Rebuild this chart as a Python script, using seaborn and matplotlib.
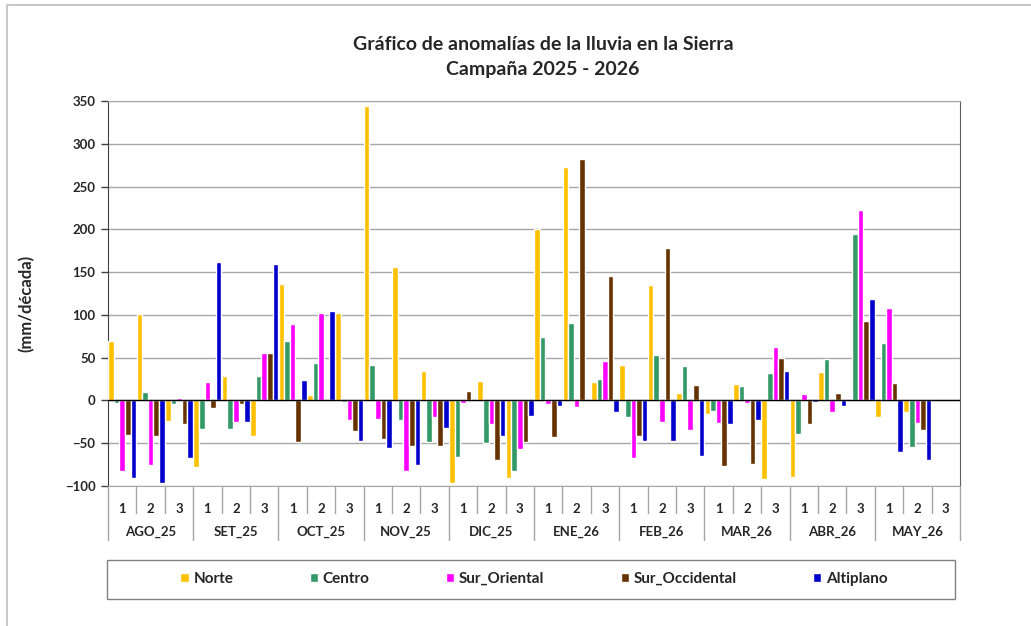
import pandas as pd
import seaborn as sns
import matplotlib.pyplot as plt
from matplotlib.patches import Rectangle, Patch
from matplotlib.transforms import blended_transform_factory

# Meses y décadas
meses = ['AGO_25', 'SET_25', 'OCT_25', 'NOV_25', 'DIC_25',
         'ENE_26', 'FEB_26', 'MAR_26', 'ABR_26', 'MAY_26']
decadas = ['1', '2', '3']
regiones = ['Norte', 'Centro', 'Sur_Oriental', 'Sur_Occidental', 'Altiplano']
colores = ['#FFC000', '#339966', '#FF00FF', '#663300', '#0000CC']

# Anomalías (mm/década), 30 décadas; None = sin dato
norte = [70, 101, -24, -78, 28, -42, 136, 6, 102, 344, 156, 35,
         -97, 23, -91, 200, 273, 21, 42, 135, 9, -16, 19, -92,
         -89, 33, 0, -19, -14, None]
centro = [-3, 10, -4, -33, -33, 28, 69, 44, -2, 42, -23, -48,
          -66, -50, -82, 74, 91, 25, -19, 53, 40, -12, 17, 32,
          -39, 48, 194, 67, -54, None]
sur_oriental = [-83, -76, 3, 21, -25, 55, 89, 102, -23, -22, -82, -19,
                -3, -28, -57, -4, -8, 46, -67, -25, -35, -26, -3, 62,
                7, -14, 223, 108, -26, None]
sur_occidental = [-40, -42, -28, -9, -4, 56, -49, 0, -36, -45, -53, -53,
                  11, -70, -49, -43, 282, 146, -42, 178, 18, -77, -74, 50,
                  -27, 9, 93, 20, -35, None]
altiplano = [-91, -97, -67, 162, -25, 160, 24, 105, -47, -56, -75, -32,
             -1, -42, -18, -6, 1, -13, -47, -47, -65, -27, -23, 35,
             -2, -7, 118, -60, -70, None]

series = [norte, centro, sur_oriental, sur_occidental, altiplano]
grupos = [f'{m}-{d}' for m in meses for d in decadas]

filas = []
for reg, vals in zip(regiones, series):
    for g, v in zip(grupos, vals):
        if v is not None:
            filas.append({'grupo': g, 'region': reg, 'valor': v})
df = pd.DataFrame(filas)

sns.set_style('white')
plt.rcParams['font.family'] = ['Lato', 'DejaVu Sans']
plt.rcParams['font.weight'] = 'bold'

fig = plt.figure(figsize=(10.31, 6.26), dpi=100)
ax = fig.add_axes([108 / 1031, 1 - 486 / 626, 852 / 1031, 385 / 626])

sns.barplot(data=df, x='grupo', y='valor', hue='region', order=grupos,
            hue_order=regiones, palette=colores, saturation=1, width=0.98,
            gap=0, errorbar=None, legend=False, ax=ax, zorder=3)

ax.set_ylim(-100, 350)
ax.set_yticks(range(-100, 351, 50))
ax.set_xlim(-0.5, len(grupos) - 0.5)
ax.yaxis.grid(True, color='#A6A6A6', lw=1, zorder=0)
ax.axhline(0, color='black', lw=1, zorder=4)
ax.set_xlabel('')
ax.set_ylabel('(mm/década)', fontsize=12, fontweight='bold')
ax.yaxis.set_label_coords(-0.086, 0.473)

for s in ['top', 'bottom']:
    ax.spines[s].set_color('#A6A6A6')
ax.spines['left'].set_color('#404040')
ax.spines['right'].set_color('#606060')

ax.tick_params(axis='y', left=True, length=5, width=1, color='#404040',
               labelsize=9.5, pad=4)
for t in ax.get_yticklabels():
    t.set_fontweight('bold')
ax.set_xticks(range(len(grupos)))
ax.set_xticklabels(decadas * len(meses), fontsize=9.5, fontweight='bold')
ax.tick_params(axis='x', bottom=False, pad=9)

# Divisiones del eje de categorías
tr = blended_transform_factory(ax.transData, ax.transAxes)
for i in range(len(grupos) + 1):
    x = i - 0.5
    fondo = -0.140 if i % 3 == 0 else -0.070
    ax.plot([x, x], [0, fondo], color='#A6A6A6', lw=1, transform=tr,
            clip_on=False)
for j, m in enumerate(meses):
    ax.text(3 * j + 1, -0.120, m, transform=tr, ha='center', va='center',
            fontsize=9.5, fontweight='bold')

fig.text(543 / 1031, 1 - 44 / 626, 'Gráfico de anomalías de la lluvia en la Sierra',
         ha='center', va='center', fontsize=14, fontweight='bold')
fig.text(543 / 1031, 1 - 70 / 626, 'Campaña 2025 - 2026',
         ha='center', va='center', fontsize=14, fontweight='bold')

# Leyenda
fig.patches.append(Rectangle((107 / 1031, 1 - 599 / 626), 848 / 1031, 39 / 626,
                             transform=fig.transFigure, fill=False,
                             edgecolor='#808080', lw=1))
manejadores = [Patch(facecolor=c, label=r) for c, r in zip(colores, regiones)]
fig.legend(handles=manejadores, ncol=5, loc='center',
           bbox_to_anchor=(534 / 1031, 1 - 579 / 626), frameon=False,
           prop={'size': 11, 'weight': 'bold'}, handlelength=0.55,
           handleheight=0.55, handletextpad=0.3, columnspacing=5.0)

# Marco exterior del gráfico
fig.patches.append(Rectangle((7 / 1031, -0.1), 1.2, 1.1 - 5 / 626,
                             transform=fig.transFigure, fill=False,
                             edgecolor='#C8C8C8', lw=1.5))

fig.savefig('out.png', dpi=100)
